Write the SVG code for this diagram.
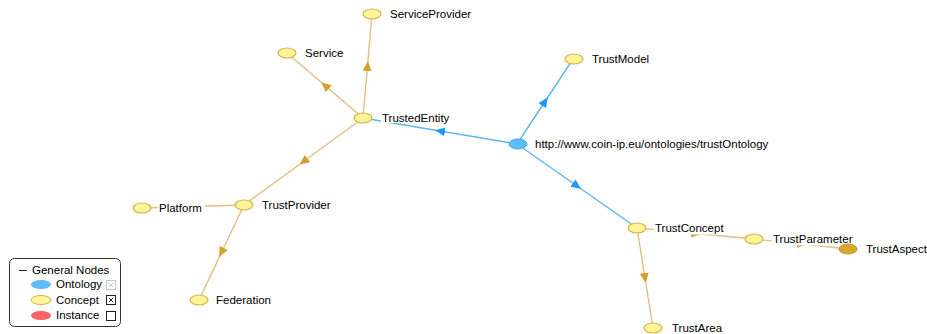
<svg xmlns="http://www.w3.org/2000/svg" width="927" height="334" viewBox="0 0 927 334">
<style>
text{font-family:"Liberation Sans",Arial,sans-serif;font-size:11.5px;fill:#000}
.tan{fill:none;stroke:#E2BF82;stroke-width:1.4;marker-mid:url(#ta)}
.blue{fill:none;stroke:#5AB8F6;stroke-width:1.4;marker-mid:url(#ba)}
.c{fill:#FFF497;stroke:#D7B24C;stroke-width:1.2}
.o{fill:#5CBDFB;stroke:#45A8EE;stroke-width:1}
.bg{fill:#fff}
</style>
<defs>
<marker id="ta" viewBox="0 0 10 10" refX="5" refY="5" markerWidth="10" markerHeight="10" markerUnits="userSpaceOnUse" orient="auto"><path d="M0,0.5 L10,5 L0,9.5 z" fill="#D4A032"/></marker>
<marker id="ba" viewBox="0 0 10 10" refX="5" refY="5" markerWidth="10" markerHeight="10" markerUnits="userSpaceOnUse" orient="auto"><path d="M0,0.5 L10,5 L0,9.5 z" fill="#1C9AF8"/></marker>
</defs>
<rect width="927" height="334" fill="#fff"/>
<g id="connectors">
<path class="tan" d="M363,118 L367.5,66 L372,14"/>
<path class="tan" d="M363,118 L325,85.5 L287,53"/>
<path class="tan" d="M363,118 L303.5,161.5 L244,205"/>
<path class="tan" d="M244,205 L193,206.5 L142,208"/>
<path class="tan" d="M244,205 L221.5,252.5 L199,300"/>
<path class="blue" d="M517,144 L440,131 L363,118"/>
<path class="blue" d="M517,144 L545,101.5 L573,59"/>
<path class="blue" d="M517,144 L577,186 L637,228"/>
<path class="tan" d="M637,228 L645,278 L653,328"/>
<path class="tan" d="M637,228 L696,233.5 L754,239"/>
<path class="tan" d="M754,239 L802,244 L848,249"/>
</g>
<g id="n-serviceprovider"><ellipse class="c" cx="372" cy="14" rx="9" ry="5"/><rect class="bg" x="389" y="7" width="80" height="13"/><text x="390" y="18">ServiceProvider</text></g>
<g id="n-service"><ellipse class="c" cx="287" cy="53" rx="9" ry="5"/><rect class="bg" x="304" y="46" width="42" height="13"/><text x="305" y="57">Service</text></g>
<g id="n-trustedentity"><ellipse class="c" cx="363" cy="118" rx="9" ry="5"/><rect class="bg" x="381" y="111" width="70" height="12"/><text x="382" y="122">TrustedEntity</text></g>
<g id="n-trustmodel"><ellipse class="c" cx="574" cy="59" rx="9" ry="5"/><rect class="bg" x="591" y="52" width="60" height="13"/><text x="592" y="63">TrustModel</text></g>
<g id="n-ontology"><ellipse class="o" cx="518" cy="144" rx="9" ry="5"/><rect class="bg" x="534" y="137" width="245" height="13"/><text x="535" y="148">http://www.coin-ip.eu/ontologies/trustOntology</text></g>
<g id="n-trustprovider"><ellipse class="c" cx="244" cy="205" rx="9" ry="5"/><rect class="bg" x="261" y="198" width="72" height="13"/><text x="262" y="209">TrustProvider</text></g>
<g id="n-platform"><ellipse class="c" cx="142" cy="208" rx="9" ry="5"/><rect class="bg" x="158" y="201" width="47" height="13"/><text x="159" y="212">Platform</text></g>
<g id="n-federation"><ellipse class="c" cx="199" cy="300" rx="9" ry="5"/><rect class="bg" x="215" y="293" width="57" height="13"/><text x="216" y="304">Federation</text></g>
<g id="n-trustconcept"><ellipse class="c" cx="637" cy="228" rx="9" ry="5"/><rect class="bg" x="654" y="221" width="70" height="13.5"/><text x="655" y="232">TrustConcept</text></g>
<g id="n-trustparameter"><ellipse class="c" cx="754" cy="239" rx="9" ry="5"/><rect class="bg" x="772" y="232" width="80" height="13.5"/><text x="773" y="243">TrustParameter</text></g>
<g id="n-trustaspect"><ellipse cx="848" cy="249" rx="9" ry="5" fill="#D8A72E" stroke="#C39222" stroke-width="1"/><rect class="bg" x="865" y="242" width="62" height="13"/><text x="866" y="253">TrustAspect</text></g>
<g id="n-trustarea"><ellipse class="c" cx="653" cy="328" rx="9" ry="5"/><rect class="bg" x="671" y="321" width="54" height="13"/><text x="672" y="332">TrustArea</text></g>
<g id="legend">
<rect x="9.5" y="258.5" width="111" height="68" rx="5" fill="#fff" stroke="#333" stroke-width="1"/>
<line x1="19" y1="270.5" x2="27" y2="270.5" stroke="#222" stroke-width="1"/>
<text x="32" y="274">General Nodes</text>
<ellipse cx="41" cy="284.5" rx="10" ry="4.5" fill="#5CBDFB"/>
<text x="56" y="288">Ontology</text>
<ellipse cx="41" cy="300" rx="10" ry="4.5" fill="#FFF497" stroke="#D7B24C" stroke-width="1"/>
<text x="56" y="303.5">Concept</text>
<ellipse cx="41" cy="315.5" rx="10" ry="4.5" fill="#F86464"/>
<text x="56" y="319">Instance</text>
<rect x="106.5" y="280.5" width="9" height="9" fill="#fff" stroke="#C8C8C8"/>
<path d="M109,283 L113,287 M113,283 L109,287" stroke="#C8C8C8" stroke-width="1"/>
<rect x="106.5" y="295.5" width="9" height="9" fill="#fff" stroke="#222"/>
<path d="M109,298 L113,302 M113,298 L109,302" stroke="#222" stroke-width="1"/>
<rect x="106.5" y="311.5" width="9" height="9" fill="#fff" stroke="#222"/>
</g>
</svg>
